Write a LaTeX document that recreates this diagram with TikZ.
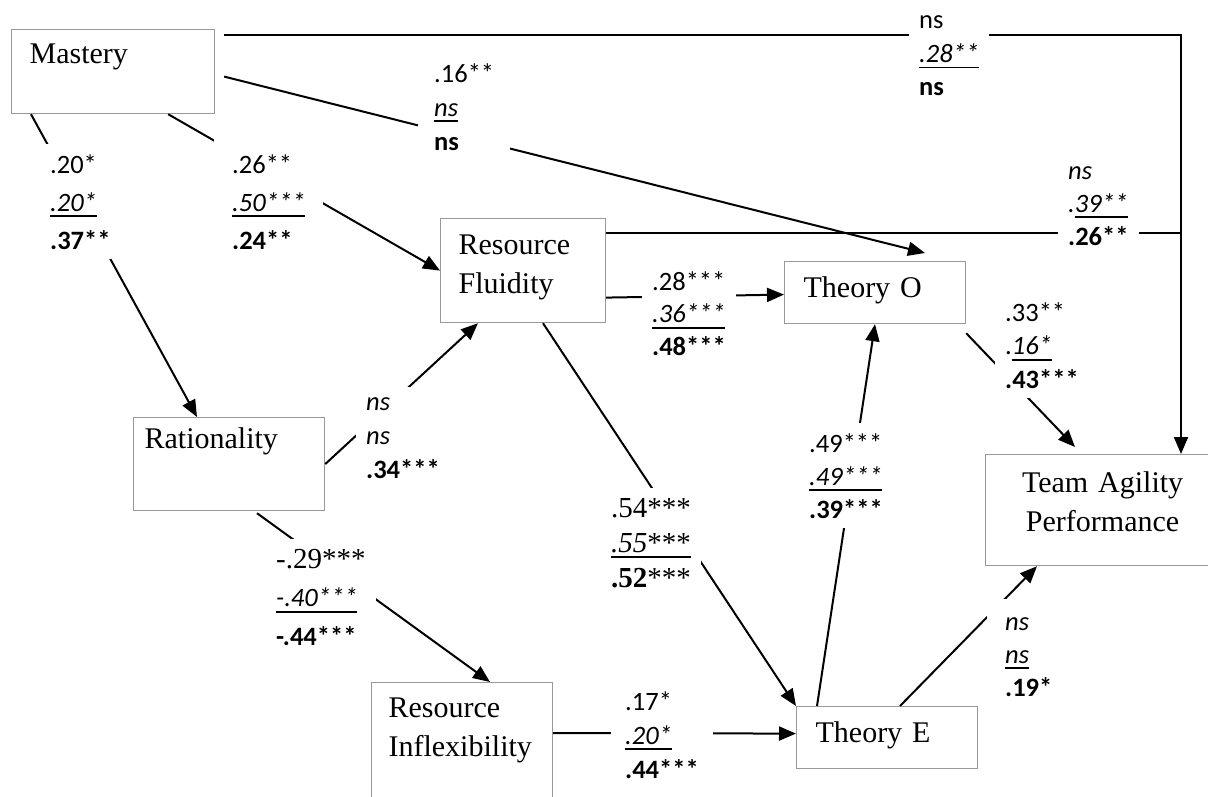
\documentclass[tikz,border=0pt]{standalone}
\usepackage{fontspec}
\setmainfont{Liberation Serif}
\newfontfamily\cali{Carlito}
\usetikzlibrary{arrows.meta}

\newcommand{\undl}[1]{{\setbox0=\hbox{#1}\rlap{\rule[-6pt]{\wd0}{1.8pt}}\box0}}

\tikzset{
  box/.style n args={4}{draw=black!40, line width=1.2pt, anchor=north west, align=left,
    text width=#1, inner xsep=#2, inner ysep=#3, text height=21pt, text depth=#4,
    font=\fontsize{30}{39}\selectfont},
  link/.style={line width=2pt},
  arr/.style={link, -{Triangle[length=17pt,width=14pt]}},
  lbl/.style={anchor=base west, align=left, fill=white, inner sep=10pt,
    font=\cali\fontsize{26.5}{#1}\selectfont},
  lbl/.default=34
}

\begin{document}
\begin{tikzpicture}[x=1pt,y=-1pt]
  \useasboundingbox (0,0) rectangle (1208,797);
  \clip (0,0) rectangle (1208,797);
  % the constructs
  \node[box={167pt}{18pt}{13pt}{37pt}] (mastery) at (11,29) {Mastery};
  \node[box={129pt}{18pt}{15pt}{53pt}] (fluid) at (440,218) {Resource\\Fluidity};
  \node[box={143pt}{19pt}{15pt}{11pt}] (theoryO) at (784,261) {Theory O};
  \node[box={169pt}{11pt}{10pt}{52pt}] (ration) at (133,417) {Rationality};
  \node[box={214pt}{10pt}{17pt}{56pt}, align=center] (tap) at (985,454) {Team Agility\\Performance};
  \node[box={147pt}{17pt}{14pt}{89pt}] (inflex) at (371,682) {Resource\\Inflexibility};
  \node[box={143pt}{19pt}{15pt}{11pt}] (theoryE) at (796,706) {Theory E};
  % paths
  \coordinate (tapin) at ([xshift=196pt]tap.north west);
  \coordinate (rfout) at ([yshift=-15pt]fluid.north east);
  \draw[arr] ([xshift=9pt,yshift=-6pt]mastery.north east) -| (tapin);
  \draw[arr] ([xshift=20pt]mastery.south west) -- ([xshift=64pt]ration.north west);
  \draw[arr] ([xshift=-47pt]mastery.south east) -- (fluid.west);
  \draw[arr] ([xshift=9pt,yshift=-5pt]mastery.east) -- ([xshift=141pt,yshift=8pt]theoryO.north west);
  \draw[link] (rfout) -- (rfout -| tapin);
  \draw[arr] ([yshift=-27pt]fluid.east) -- ([yshift=-2pt]theoryO.west);
  \draw[arr] ([xshift=103pt]fluid.south west) -- (theoryE.north west);
  \draw[arr] (ration.east) -- ([xshift=38pt]fluid.south west);
  \draw[arr] ([xshift=124pt,yshift=-2pt]ration.south west) -- ([xshift=119pt]inflex.north west);
  \draw[arr] ([yshift=-51pt]inflex.north east) -- ([yshift=4pt]theoryE.west);
  \draw[arr] ([xshift=21pt]theoryE.north west) -- ([xshift=91pt]theoryO.south west);
  \draw[arr] ([xshift=104pt]theoryE.north west) -- ([xshift=52pt]tap.south west);
  \draw[arr] ([yshift=-9pt]theoryO.south east) -- ([xshift=90pt,yshift=7pt]tap.north west);
  % coefficients (placed by the baseline of their last line)
  \node[lbl=38] (c-mr) at (40,249) {.20*\\\undl{\textit{.20*}}\\\textbf{.37**}};
  \node[lbl=38, inner sep=18pt] (c-mf) at (214,249) {.26**\\\undl{\textit{.50***}}\\\textbf{.24**}};
  \node[lbl, inner xsep=16pt] (c-mo) at (418,150) {.16**\\\undl{\textit{ns}}\\\textbf{ns}};
  \node[lbl=33.5] (c-mt) at (909,96) {ns\\\undl{\textit{.28**}}\\\textbf{ns}};
  \node[lbl=33] (c-ft) at (1058,245) {\textit{ns}\\\textit{.}\undl{\textit{39**}}\\\textbf{.26**}};
  \node[lbl=32.5] (c-fo) at (642,355) {.28***\\\undl{\textit{.36***}}\\\textbf{.48***}};
  \node[lbl=33.5] (c-ot) at (995,388) {.33**\\.\undl{\textit{16*}}\\\textbf{.43***}};
  \node[lbl] (c-rf) at (356,478) {\textit{ns}\\\textit{ns}\\\textbf{.34***}};
  \node[lbl=38.5] (c-ri) at (266,645) {{\rmfamily\fontsize{29}{38.5}\selectfont -.29***}\\\undl{\textit{-.40***}}\\\textbf{-.44***}};
  \node[lbl, font=\fontsize{29}{35}\selectfont] (c-fe) at (601,587) {.54***\\\undl{\textit{.55}***}\\\textbf{.52}***};
  \node[lbl, inner sep=14pt] (c-ie) at (611,778) {.17*\\\undl{\textit{.20*}}\\\textbf{.44***}};
  \node[lbl=33] (c-eo) at (799,518) {.49***\\\undl{\textit{.49***}}\\\textbf{.39***}};
  \node[lbl=33, inner sep=18pt] (c-et) at (987,696) {\textit{ns}\\\undl{\textit{ns}}\\\textbf{.19*}};
\end{tikzpicture}
\end{document}
